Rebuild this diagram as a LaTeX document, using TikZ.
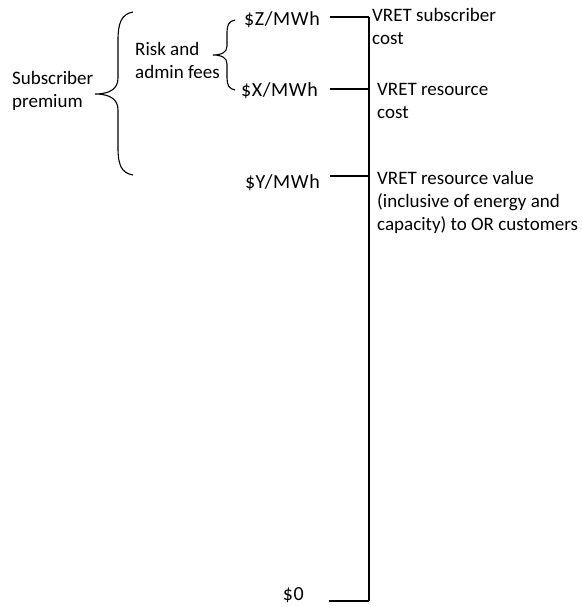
\documentclass[tikz,border=0pt]{standalone}
\usepackage{fontspec}
\setmainfont{Carlito}
\newfontfamily\valfont[LetterSpace=3]{Carlito}
\begin{document}
\begin{tikzpicture}[x=1pt,y=-1pt,
  lbl/.style={inner sep=0pt,font=\fontsize{19}{23}\selectfont},
  rlbl/.style={lbl,anchor=base west,align=left},
  vlbl/.style={inner sep=0pt,font=\valfont\fontsize{20}{23}\selectfont,anchor=base east},
  line/.style={line width=1.1pt,black},
  brace/.style={line width=1.1pt,black}]
\useasboundingbox (0,0) rectangle (581,607);
% axis
\coordinate (top) at (369,17);
\coordinate (bot) at (369,601);
\coordinate (tz) at (369,17);
\coordinate (tx) at (369,89);
\coordinate (ty) at (369,176);
\coordinate (t0) at (369,601);
\node[vlbl] (vz) at (320,26) {\$Z/MWh};
\node[vlbl] (vx) at (318,97) {\$X/MWh};
\node[vlbl] (vy) at (320,188) {\$Y/MWh};
\node[vlbl] (v0) at (304,600) {\$0};
\coordinate (sz) at (330,17);
\coordinate (sx) at (330,89);
\coordinate (sy) at (330,176);
\coordinate (s0) at (329,601);
\draw[line] (top) -- (bot);
\draw[line] (sz) -- (tz);
\draw[line] (sx) -- (tx);
\draw[line] (sy) -- (ty);
\draw[line] (s0) -- (t0);
% right labels (base = baseline of last line)
\node[rlbl] (r1) at (372,45) {VRET subscriber\\cost};
\node[rlbl] (r2) at (377,118) {VRET resource\\cost};
\node[rlbl] (r3) at (377,230) {VRET resource value\\(inclusive of energy and\\capacity) to OR customers};
% left labels
\node[rlbl] (sp) at (12,108) {Subscriber\\premium};
\node[rlbl] (ra) at (135,79) {Risk and\\admin fees};
% braces
\draw[brace] (133,12) .. controls (121,14) and (118,24) .. (118,40) -- (118,78)
  .. controls (118,88) and (111,94) .. (95,94)
  .. controls (111,94) and (118,100) .. (118,110) -- (118,148)
  .. controls (118,164) and (121,173) .. (133,175);
\draw[brace] (235,20) .. controls (229,21) and (227,25) .. (227,32) -- (227,46)
  .. controls (227,52) and (222,55) .. (213,55)
  .. controls (222,55) and (227,58) .. (227,64) -- (227,78)
  .. controls (227,85) and (229,89) .. (235,90);
\end{tikzpicture}
\end{document}
